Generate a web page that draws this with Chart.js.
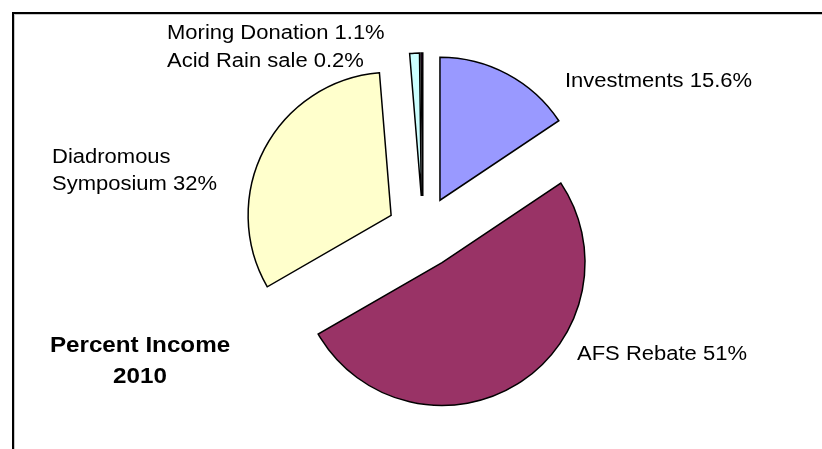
<!DOCTYPE html>
<html>
<head>
<meta charset="utf-8">
<script src="https://cdn.jsdelivr.net/npm/chart.js@4/dist/chart.umd.min.js"></script>
<style>
  html, body { margin: 0; padding: 0; background: #fff; }
  #wrap { width: 822px; height: 449px; position: relative; }
</style>
</head>
<body>
<div id="wrap"><canvas id="pieChart" width="822" height="449"></canvas></div>
<script>
// Chart data
const categories = ["Investments", "AFS Rebate", "Diadromous Symposium", "Moring Donation", "Acid Rain sale"];
const values = [15.6, 51, 32, 1.1, 0.2];
const sliceColors = ["#9999FF", "#993366", "#FFFFCC", "#CCFFFF", "#660066"];
const chartTitle = ["Percent Income", "2010"];

// How far each slice is pulled out of the pie (px)
const EXPLODE = 36;
const FONT = "'Liberation Sans', Arial, sans-serif";

// Label text for a slice, e.g. "Investments 15.6%"
function sliceLabel(i) {
  return categories[i] + " " + values[i] + "%";
}

// Pull every slice out along its middle angle
const explodePlugin = {
  id: "explode",
  afterDatasetsUpdate(chart) {
    chart.getDatasetMeta(0).data.forEach((arc) => {
      const mid = (arc.startAngle + arc.endAngle) / 2;
      arc.x += Math.cos(mid) * EXPLODE;
      arc.y += Math.sin(mid) * EXPLODE;
    });
  }
};

// Draw stretched text, the way the original renders its fonts
function drawText(ctx, text, x, y, font, align) {
  ctx.save();
  ctx.font = font;
  ctx.fillStyle = "#000";
  ctx.textBaseline = "alphabetic";
  ctx.textAlign = align || "left";
  ctx.translate(x, y);
  ctx.scale(1.1, 1);
  ctx.fillText(text, 0, 0);
  ctx.restore();
}

// Frame, data labels and title
const labelPlugin = {
  id: "labels",
  afterDraw(chart) {
    const ctx = chart.ctx;
    // frame (only top and left edges are visible)
    ctx.save();
    ctx.fillStyle = "#c8c8c8";
    ctx.fillRect(14, 14, 808, 1);
    ctx.fillRect(14, 14, 1, 435);
    ctx.fillStyle = "#000";
    ctx.fillRect(12, 12, 810, 2);
    ctx.fillRect(12, 12, 2, 437);
    ctx.restore();

    const f = "20px " + FONT;
    drawText(ctx, sliceLabel(3), 167, 39, f);
    drawText(ctx, sliceLabel(4), 167, 67, f);
    drawText(ctx, sliceLabel(0), 565, 87, f);
    drawText(ctx, "Diadromous", 52, 163, f);
    drawText(ctx, "Symposium " + values[2] + "%", 52, 190, f);
    drawText(ctx, sliceLabel(1), 577, 360, f);

    const fb = "bold 22px " + FONT;
    drawText(ctx, chartTitle[0], 140, 352, fb, "center");
    drawText(ctx, chartTitle[1], 140, 383, fb, "center");
  }
};

const ctx = document.getElementById("pieChart").getContext("2d");
new Chart(ctx, {
  type: "pie",
  data: {
    labels: categories,
    datasets: [{
      data: values,
      backgroundColor: sliceColors,
      borderColor: "#000",
      borderWidth: 1.5,
      borderJoinStyle: "miter"
    }]
  },
  options: {
    responsive: false,
    animation: false,
    radius: 143,
    layout: { padding: { left: 24, right: 0, top: 15, bottom: 0 } },
    plugins: {
      legend: { display: false },
      tooltip: { enabled: false },
      title: { display: false }
    }
  },
  plugins: [explodePlugin, labelPlugin]
});
</script>
</body>
</html>
